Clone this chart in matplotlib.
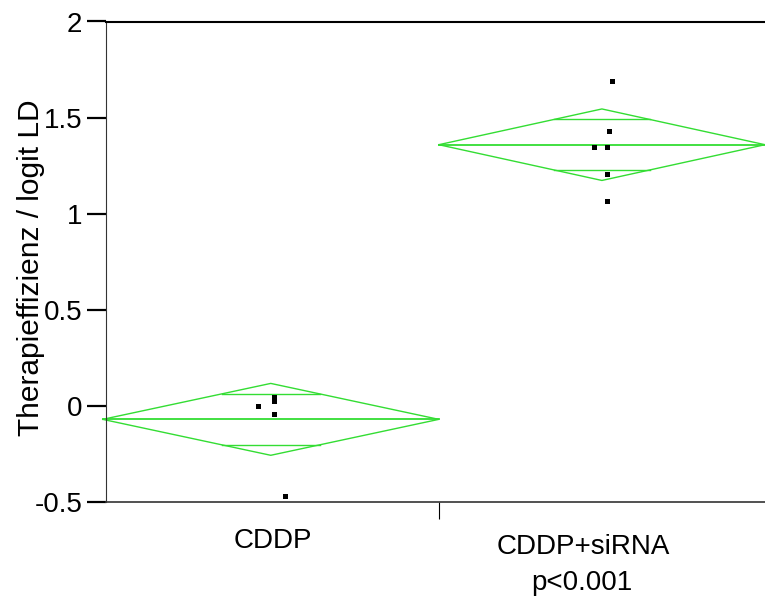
import matplotlib.pyplot as plt
import numpy as np

plt.rcParams['font.family'] = ['Liberation Sans', 'DejaVu Sans']

# data
groups = ['CDDP', 'CDDP+siRNA\np<0.001']
group_lo = [-0.005, 0.505]      # x extent of each group (axes units)
group_hi = [0.505, 1.0]
group_mean = [-0.07, 1.359]
group_ci = [0.187, 0.186]       # half width of 95% CI

cddp_x = [0.231, 0.255, 0.255, 0.255, 0.271]
cddp_y = [0.0, 0.045, 0.028, -0.041, -0.47]
sirna_x = [0.768, 0.764, 0.740, 0.760, 0.760, 0.760]
sirna_y = [1.692, 1.428, 1.345, 1.345, 1.207, 1.068]

yticks = [-0.5, 0, 0.5, 1, 1.5, 2]
yticklabels = ['-0.5', '0', '0.5', '1', '1.5', '2']

green = '#33dd33'

fig = plt.figure(figsize=(7.65, 5.99), dpi=100)
ax = fig.add_axes([106 / 765, 97 / 599, 659 / 765, 480.5 / 599])

for lo, hi, m, ci in zip(group_lo, group_hi, group_mean, group_ci):
    c = (lo + hi) / 2
    ax.plot([lo, c, hi, c, lo], [m, m + ci, m, m - ci, m],
            color=green, lw=1.0, clip_on=False)
    ax.plot([lo, hi], [m, m], color=green, lw=1.3, clip_on=False)
    # overlap marks
    d = ci / np.sqrt(2)
    hw = (hi - lo) / 2 * (1 - d / ci)
    for s in (1, -1):
        ax.plot([c - hw, c + hw], [m + s * d, m + s * d], color=green, lw=1.0)

ax.plot(cddp_x, cddp_y, 's', color='black', ms=3.6, mew=0, clip_on=False)
ax.plot(sirna_x, sirna_y, 's', color='black', ms=3.6, mew=0, clip_on=False)

ax.set_xlim(0, 1)
ax.set_ylim(-0.5, 2)
ax.set_yticks(yticks)
ax.set_yticklabels(yticklabels, fontsize=20)
ax.tick_params(axis='y', direction='out', length=14, width=1.6, pad=3)
ax.set_xticks([0.505])
ax.set_xticklabels([''])
ax.tick_params(axis='x', direction='out', length=12, width=0.8)

ax.spines['right'].set_visible(False)
ax.spines['left'].set_color('#333333')
ax.spines['left'].set_linewidth(0.8)
ax.spines['bottom'].set_color('#333333')
ax.spines['bottom'].set_linewidth(1.2)
ax.spines['top'].set_linewidth(1.5)

fig.text(273 / 765, 1 - 548 / 599, groups[0], fontsize=20,
         ha='center', va='baseline')
fig.text(583 / 765, 1 - 554 / 599, groups[1].split('\n')[0], fontsize=20,
         ha='center', va='baseline')
fig.text(582 / 765, 1 - 590 / 599, groups[1].split('\n')[1], fontsize=20,
         ha='center', va='baseline')

fig.text(31 / 765, 1 - 268 / 599, 'Therapieffizienz / logit LD', fontsize=21.5,
         rotation=90, ha='center', va='center')

fig.savefig('out.png', dpi=100)
